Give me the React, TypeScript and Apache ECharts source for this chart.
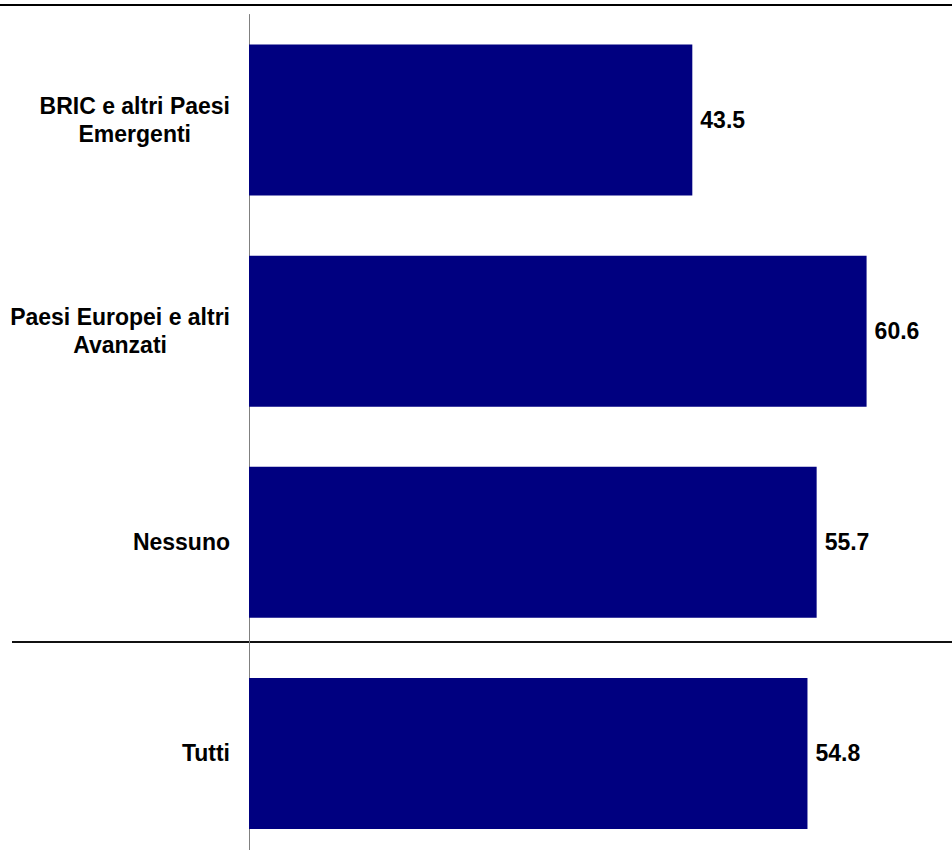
import React, { useEffect, useRef } from "react";
import * as echarts from "echarts";

const categories: string[] = [
  "BRIC e altri Paesi\nEmergenti",
  "Paesi Europei e altri\nAvanzati",
  "Nessuno",
  "Tutti",
];
const values: number[] = [43.5, 60.6, 55.7, 54.8];

const FONT = "'Liberation Sans', Arial, Helvetica, sans-serif";

export default function App() {
  const ref = useRef<HTMLDivElement>(null);
  useEffect(() => {
    if (!ref.current) return;
    const chart = echarts.init(ref.current, undefined, { renderer: "svg" });
    chart.setOption({
      animation: false,
      backgroundColor: "#ffffff",
      textStyle: { fontFamily: FONT },
      grid: { left: 249, right: 10, top: 14.5, bottom: 0, containLabel: false },
      xAxis: {
        type: "value",
        min: 0,
        max: 68,
        show: false,
        splitLine: { show: false },
      },
      yAxis: {
        type: "category",
        inverse: true,
        data: categories,
        axisLine: { show: true, lineStyle: { color: "#808080", width: 1 } },
        axisTick: { show: false },
        axisLabel: {
          margin: 19,
          align: "right",
          fontFamily: FONT,
          fontSize: 23,
          fontWeight: "bold",
          color: "#000000",
          lineHeight: 28,
          formatter: (v: string) =>
            v
              .split("\n")
              .map((l) => "{c|" + l + "}")
              .join("\n"),
          rich: {
            c: {
              align: "center",
              fontFamily: FONT,
              fontSize: 23,
              fontWeight: "bold",
              color: "#000000",
              lineHeight: 28,
            },
          },
        },
      },
      series: [
        {
          type: "bar",
          data: values,
          barCategoryGap: "28.5%",
          itemStyle: { color: "#000080" },
          label: {
            show: true,
            position: "right",
            distance: 8,
            fontFamily: FONT,
            fontSize: 23,
            fontWeight: "bold",
            color: "#000000",
            formatter: (p: any) => Number(p.value).toFixed(1),
          },
        },
      ],
      graphic: [
        {
          type: "line",
          shape: { x1: 0, y1: 5, x2: 952, y2: 5 },
          style: { stroke: "#000000", lineWidth: 2 },
          silent: true,
        },
        {
          type: "line",
          shape: { x1: 12, y1: 642, x2: 952, y2: 642 },
          style: { stroke: "#111111", lineWidth: 2 },
          silent: true,
        },
      ],
    });
    return () => chart.dispose();
  }, []);
  return (
    <div
      style={{ position: "fixed", left: 0, top: 0, width: 952, height: 850, overflow: "hidden", background: "#fff" }}
    >
      <div ref={ref} style={{ width: 952, height: 859 }} />
    </div>
  );
}
